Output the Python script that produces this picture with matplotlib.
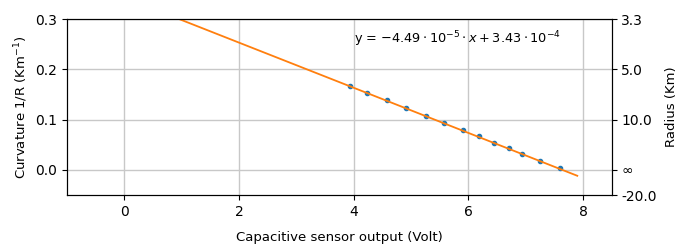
import numpy as np
import matplotlib
matplotlib.use("Agg")
import matplotlib.pyplot as plt

# measured points (sensor output vs curvature)
volts = [3.94, 4.24, 4.58, 4.91, 5.26, 5.57, 5.90, 6.18, 6.45, 6.71, 6.93, 7.25, 7.60]
curv = [0.1677, 0.1538, 0.139, 0.124, 0.108, 0.094, 0.0795, 0.067, 0.0543,
        0.0431, 0.0325, 0.0185, 0.0033]

# fitted line
slope = -0.0449
intercept = 0.343
fit_x = [0.0, 7.9]

y_ticks = [0.0, 0.1, 0.2, 0.3]
r_ticks = [0.3, 0.2, 0.1, 0.0, -0.05]
r_labels = ["3.3", "5.0", "10.0", "\u221e", "-20.0"]

plt.rcParams["font.size"] = 10

fig, ax = plt.subplots(figsize=(6.77, 2.45), dpi=100)
fig.subplots_adjust(left=0.099, right=0.9035, top=0.922, bottom=0.204)

fx = np.array(fit_x)
ax.scatter(volts, curv, s=9, color="#1f77b4", zorder=2)
ax.plot(fx, slope * fx + intercept, color="#ff7f0e", lw=1.3, zorder=3)

ax.set_xlim(-1, 8.5)
ax.set_ylim(-0.05, 0.3)
ax.set_xticks([0, 2, 4, 6, 8])
ax.set_yticks(y_ticks)
ax.grid(True, color="#c8c8c8", lw=1)
ax.set_axisbelow(True)
ax.set_xlabel("Capacitive sensor output (Volt)", fontsize=9.5, labelpad=9)
ax.set_ylabel("Curvature 1/R (Km$^{-1}$)", fontsize=9.5)

ax.text(4.0, 0.252, r"y = $-4.49\cdot10^{-5}\cdot x + 3.43\cdot10^{-4}$", fontsize=9.3)

ax2 = ax.twinx()
ax2.set_ylim(-0.05, 0.3)
ax2.set_yticks(r_ticks)
ax2.set_yticklabels(r_labels)
ax2.set_ylabel("Radius (Km)", fontsize=9.5, labelpad=6)

fig.savefig("out.png", dpi=100)
